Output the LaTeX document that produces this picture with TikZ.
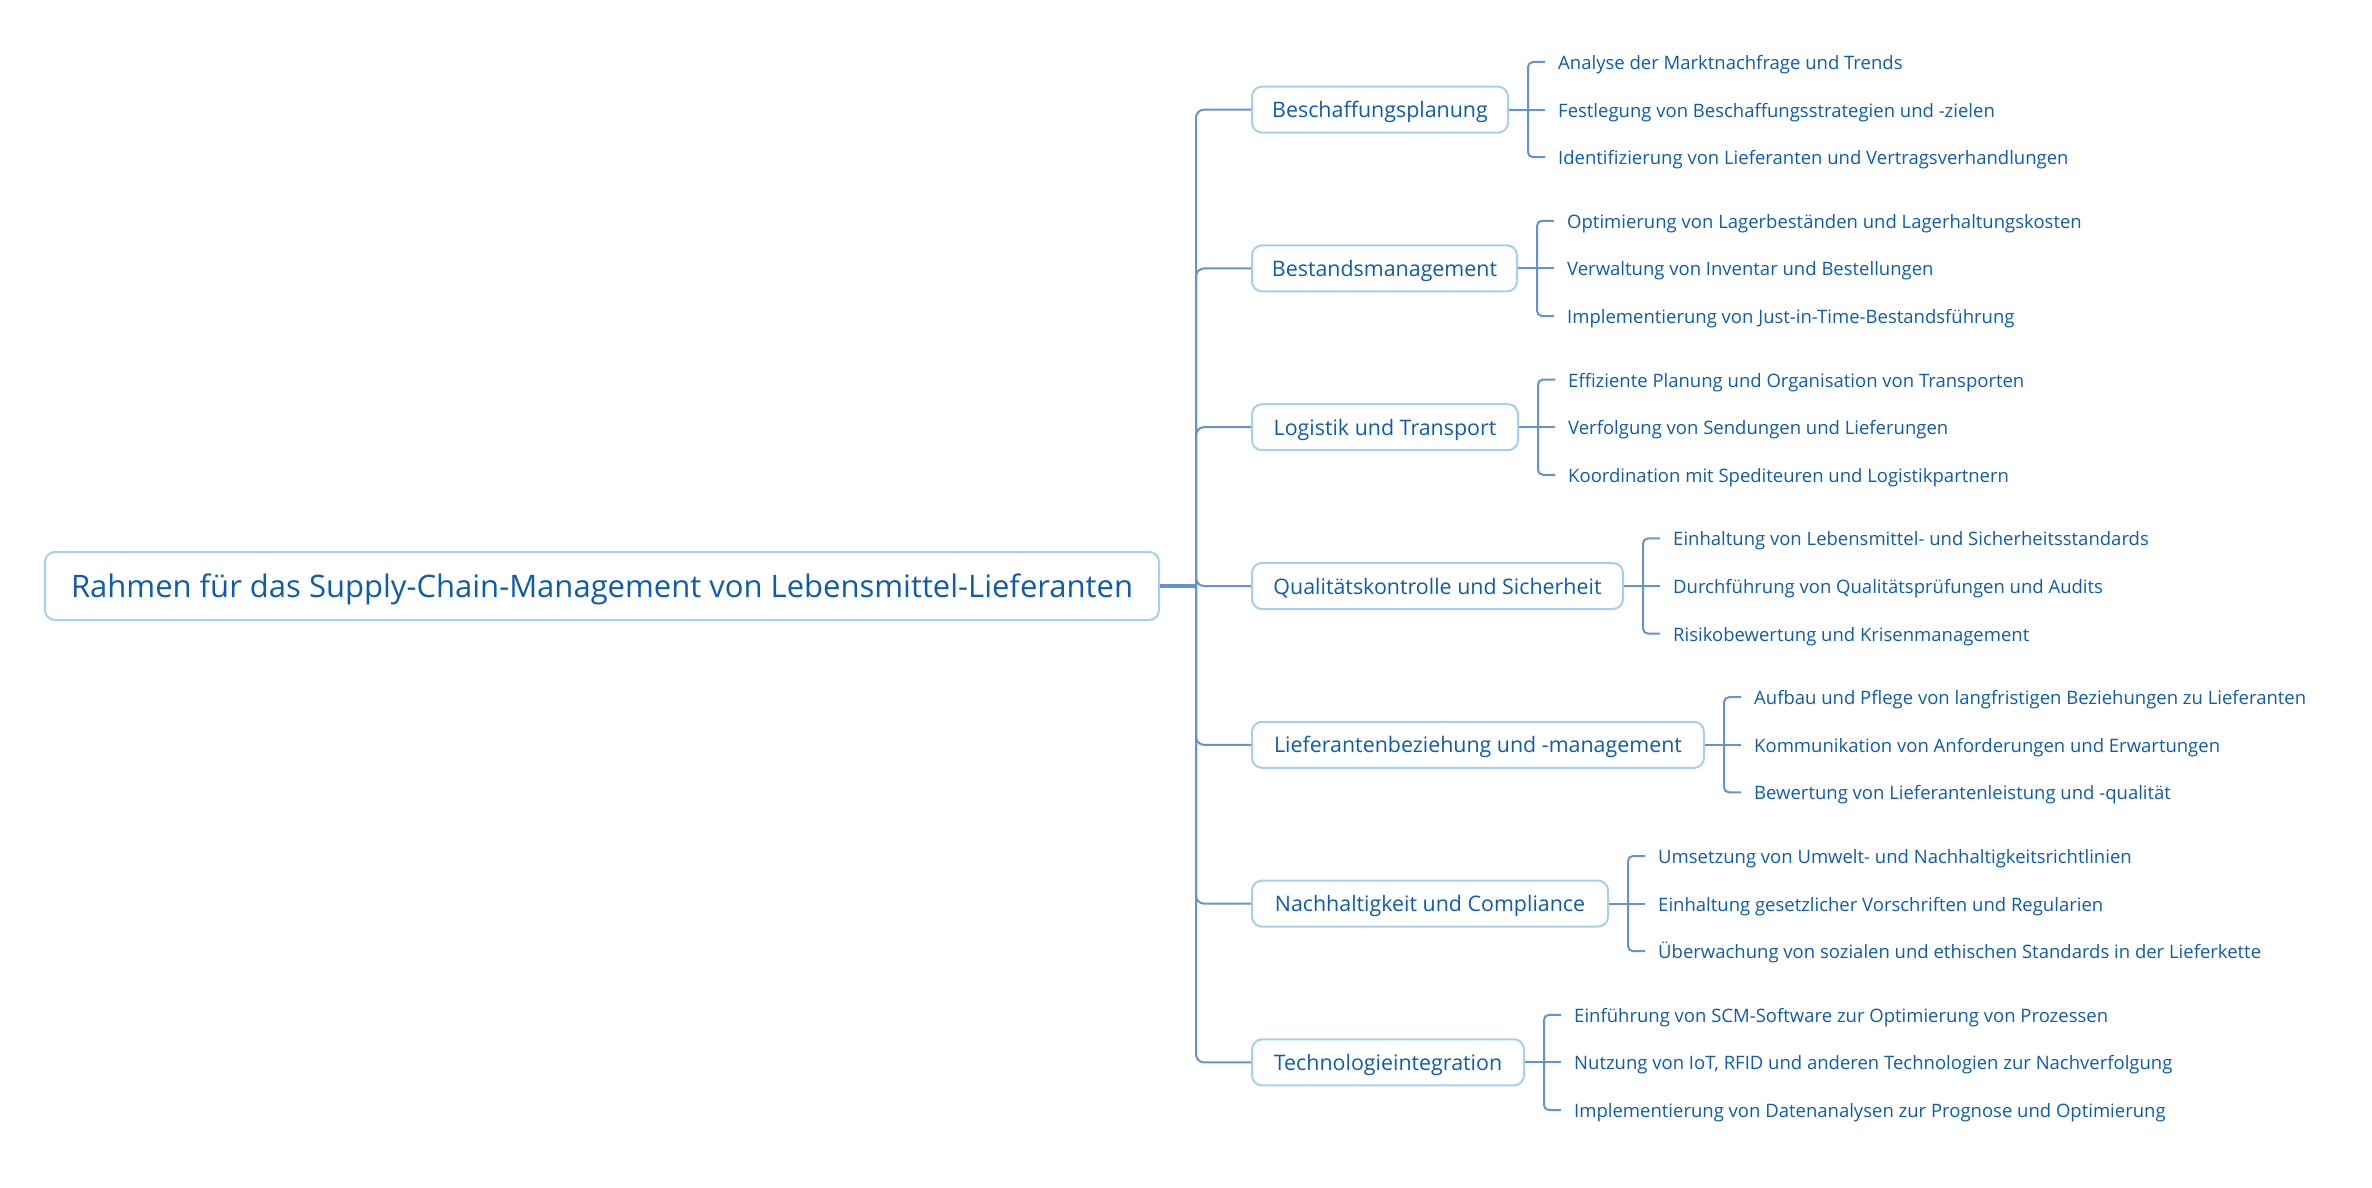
\documentclass[tikz,border=0pt]{standalone}
\usepackage{fontspec}
\setmainfont{Open Sans}
\usetikzlibrary{calc}
\definecolor{txtblue}{RGB}{16,92,172}
\definecolor{lineblue}{RGB}{98,148,208}
\definecolor{boxblue}{RGB}{165,208,236}
\tikzset{
  rootbox/.style={draw=boxblue, line width=2pt, fill=white, rounded corners=10pt,
    minimum width=1114pt, minimum height=68pt, inner sep=0pt, text=txtblue,
    text height=24pt, text depth=2pt, font=\fontsize{31}{36}\selectfont},
  branchbox/.style={draw=boxblue, line width=2pt, fill=white, rounded corners=10pt,
    minimum height=46pt, inner xsep=17pt, inner ysep=0pt, anchor=west, text=txtblue,
    text height=18pt, text depth=2pt, font=\fontsize{21.4}{25}\selectfont},
  leaftext/.style={anchor=west, inner xsep=13pt, inner ysep=0pt, text=txtblue,
    text height=16pt, text depth=1pt, font=\fontsize{18.5}{22}\selectfont},
  conn/.style={draw=lineblue, line width=2pt},
  rootconn/.style={draw=lineblue, line width=3.5pt},
}
\newcommand{\mybranch}[7]{%
  \node[branchbox, minimum width=#3] (#1) at (1251,#2) {#4};
  \draw[conn, rounded corners=8pt] (j) |- (#1.west);
  \coordinate (#1k) at ($(#1.east)+(19,0)$);
  \node[leaftext] (#1a) at ($(#1.east)+(36,-47.6)$) {#5};
  \node[leaftext] (#1b) at ($(#1.east)+(36,0)$) {#6};
  \node[leaftext] (#1c) at ($(#1.east)+(36,47.6)$) {#7};
  \draw[conn, rounded corners=5pt] (#1k) |- (#1a.west);
  \draw[conn] (#1.east) -- (#1b.west);
  \draw[conn, rounded corners=5pt] (#1k) |- (#1c.west);
}
\begin{document}
\begin{tikzpicture}[x=1pt, y=-1pt]
\useasboundingbox[fill=white] (0,0) rectangle (2372,1188);
\node[rootbox] (root) at (602,586) {Rahmen für das Supply-Chain-Management von Lebensmittel-Lieferanten};
\coordinate (j) at (1196,586);
\draw[rootconn] (root.east) -- (j);
\mybranch{b1}{109.6}{256pt}{Beschaffungsplanung}{Analyse der Marktnachfrage und Trends}{Festlegung von Beschaffungsstrategien und -zielen}{Identifizierung von Lieferanten und Vertragsverhandlungen}
\mybranch{b2}{268.4}{265pt}{Bestandsmanagement}{Optimierung von Lagerbeständen und Lagerhaltungskosten}{Verwaltung von Inventar und Bestellungen}{Implementierung von Just-in-Time-Bestandsführung}
\mybranch{b3}{427.2}{266pt}{Logistik und Transport}{Effiziente Planung und Organisation von Transporten}{Verfolgung von Sendungen und Lieferungen}{Koordination mit Spediteuren und Logistikpartnern}
\mybranch{b4}{586}{371pt}{Qualitätskontrolle und Sicherheit}{Einhaltung von Lebensmittel- und Sicherheitsstandards}{Durchführung von Qualitätsprüfungen und Audits}{Risikobewertung und Krisenmanagement}
\mybranch{b5}{744.8}{452pt}{Lieferantenbeziehung und -management}{Aufbau und Pflege von langfristigen Beziehungen zu Lieferanten}{Kommunikation von Anforderungen und Erwartungen}{Bewertung von Lieferantenleistung und -qualität}
\mybranch{b6}{903.6}{356pt}{Nachhaltigkeit und Compliance}{Umsetzung von Umwelt- und Nachhaltigkeitsrichtlinien}{Einhaltung gesetzlicher Vorschriften und Regularien}{Überwachung von sozialen und ethischen Standards in der Lieferkette}
\mybranch{b7}{1062.4}{272pt}{Technologieintegration}{Einführung von SCM-Software zur Optimierung von Prozessen}{Nutzung von IoT, RFID und anderen Technologien zur Nachverfolgung}{Implementierung von Datenanalysen zur Prognose und Optimierung}
\end{tikzpicture}
\end{document}
